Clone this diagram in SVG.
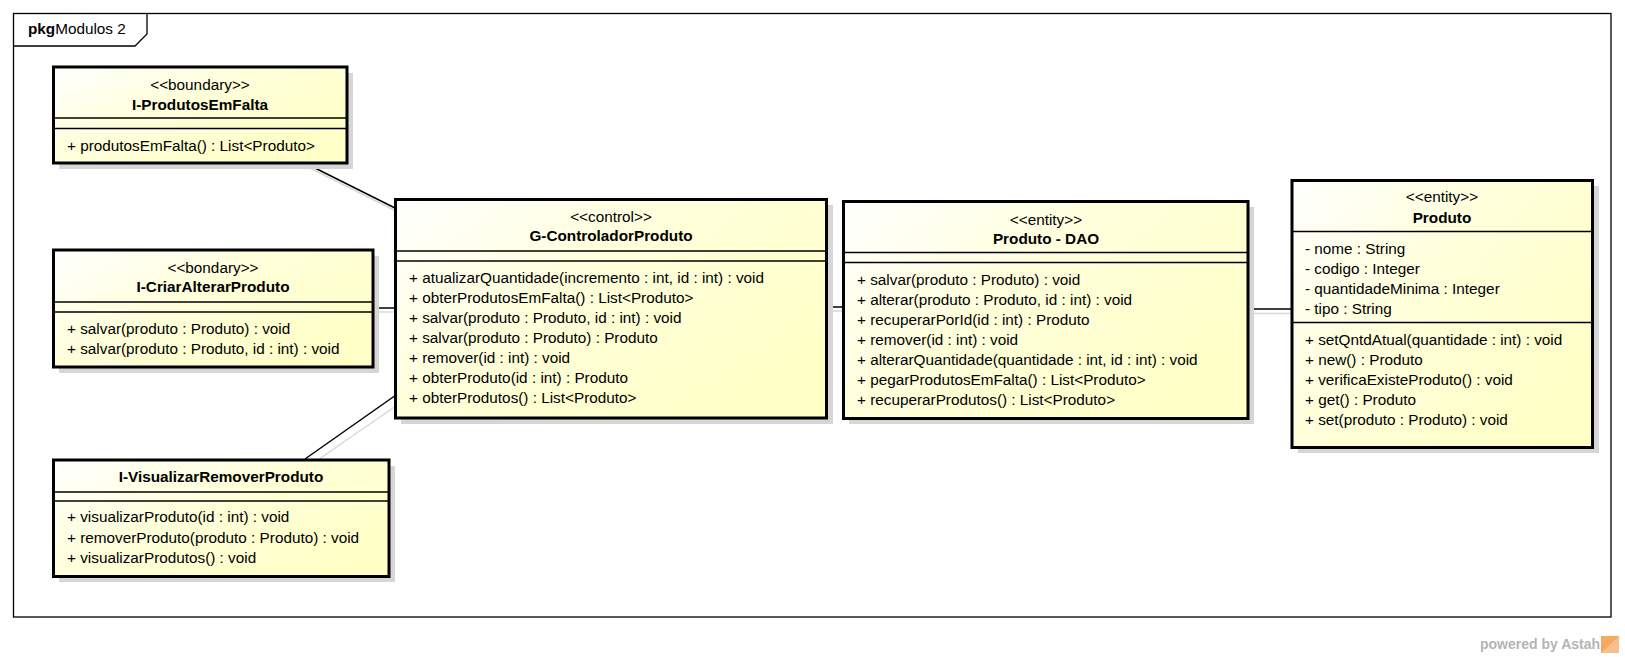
<svg xmlns="http://www.w3.org/2000/svg" width="1625" height="657" viewBox="0 0 1625 657">
<defs>
<linearGradient id="fill" x1="0" y1="0" x2="1" y2="0.7">
<stop offset="0" stop-color="#FFFFFF"/>
<stop offset="0.45" stop-color="#FFFFDC"/>
<stop offset="1" stop-color="#FFFFC6"/>
</linearGradient>
</defs>
<style>
text{font-family:"Liberation Sans",Arial,sans-serif;font-size:15.3px;fill:#000}
.c{text-anchor:middle}
.b{font-weight:bold}
.box{fill:url(#fill);stroke:#000;stroke-width:3}
.sh{fill:#d6d6d6}
.div{stroke:#000;stroke-width:1.5}
.conn{stroke:#000;stroke-width:1.5;fill:none}
.csh{stroke:#d8d8d8;stroke-width:1.5;fill:none}
</style>
<rect width="1625" height="657" fill="#fff"/>
<g id="frame">
<rect x="13.5" y="13.5" width="1597.5" height="603.5" fill="none" stroke="#000" stroke-width="1.3"/>
<path d="M13.5,46 H135 L147,34 V13.5" fill="none" stroke="#000" stroke-width="1.3"/>
<text x="28" y="34"><tspan class="b">pkg</tspan>Modulos 2</text>
</g>
<g id="connectors">
<line class="csh" x1="308" y1="167" x2="400" y2="213"/>
<line class="conn" x1="305" y1="163" x2="397" y2="209"/>
<line class="csh" x1="373" y1="312" x2="395" y2="312"/>
<line class="conn" x1="373" y1="308" x2="395" y2="308"/>
<line class="csh" x1="312" y1="464" x2="403" y2="401"/>
<line class="conn" x1="305" y1="459" x2="396" y2="395"/>
<line class="csh" x1="827" y1="311" x2="843" y2="311"/>
<line class="conn" x1="827" y1="307" x2="843" y2="307"/>
<line class="csh" x1="1248" y1="313.5" x2="1292" y2="313.5"/>
<line class="conn" x1="1248" y1="309" x2="1292" y2="309"/>
</g>
<g id="I-ProdutosEmFalta">
<rect class="sh" x="59" y="73" width="294" height="96"/>
<rect class="box" x="53.5" y="67" width="293.5" height="96"/>
<text class="c" x="200" y="90">&lt;&lt;boundary&gt;&gt;</text>
<text class="c b" x="200" y="110">I-ProdutosEmFalta</text>
<line class="div" x1="53.5" y1="118" x2="347" y2="118"/>
<line class="div" x1="53.5" y1="128.5" x2="347" y2="128.5"/>
<text x="67" y="150.5">+ produtosEmFalta() : List&lt;Produto&gt;</text>
</g>
<g id="I-CriarAlterarProduto">
<rect class="sh" x="59" y="256" width="320" height="117"/>
<rect class="box" x="53.5" y="250" width="319.5" height="117"/>
<text class="c" x="213" y="273">&lt;&lt;bondary&gt;&gt;</text>
<text class="c b" x="213" y="292">I-CriarAlterarProduto</text>
<line class="div" x1="53.5" y1="302" x2="373" y2="302"/>
<line class="div" x1="53.5" y1="312" x2="373" y2="312"/>
<text x="67" y="334">+ salvar(produto : Produto) : void</text>
<text x="67" y="354">+ salvar(produto : Produto, id : int) : void</text>
</g>
<g id="I-VisualizarRemoverProduto">
<rect class="sh" x="59" y="466" width="336" height="116"/>
<rect class="box" x="53.5" y="460" width="335.5" height="116.5"/>
<text class="c b" x="221" y="482">I-VisualizarRemoverProduto</text>
<line class="div" x1="53.5" y1="492" x2="389" y2="492"/>
<line class="div" x1="53.5" y1="501" x2="389" y2="501"/>
<text x="67" y="522">+ visualizarProduto(id : int) : void</text>
<text x="67" y="542.5">+ removerProduto(produto : Produto) : void</text>
<text x="67" y="563">+ visualizarProdutos() : void</text>
</g>
<g id="G-ControladorProduto">
<rect class="sh" x="401" y="205" width="432" height="219"/>
<rect class="box" x="395.5" y="199.5" width="431" height="218.5"/>
<text class="c" x="611" y="222">&lt;&lt;control&gt;&gt;</text>
<text class="c b" x="611" y="241">G-ControladorProduto</text>
<line class="div" x1="395.5" y1="251" x2="826.5" y2="251"/>
<line class="div" x1="395.5" y1="261" x2="826.5" y2="261"/>
<text x="409" y="283">+ atualizarQuantidade(incremento : int, id : int) : void</text>
<text x="409" y="303">+ obterProdutosEmFalta() : List&lt;Produto&gt;</text>
<text x="409" y="323">+ salvar(produto : Produto, id : int) : void</text>
<text x="409" y="343">+ salvar(produto : Produto) : Produto</text>
<text x="409" y="363">+ remover(id : int) : void</text>
<text x="409" y="383">+ obterProduto(id : int) : Produto</text>
<text x="409" y="403">+ obterProdutos() : List&lt;Produto&gt;</text>
</g>
<g id="Produto-DAO">
<rect class="sh" x="849" y="207" width="405" height="217"/>
<rect class="box" x="843.5" y="201.5" width="404.5" height="217"/>
<text class="c" x="1046" y="224.5">&lt;&lt;entity&gt;&gt;</text>
<text class="c b" x="1046" y="243.5">Produto - DAO</text>
<line class="div" x1="843.5" y1="252.5" x2="1248" y2="252.5"/>
<line class="div" x1="843.5" y1="262.5" x2="1248" y2="262.5"/>
<text x="857" y="284.5">+ salvar(produto : Produto) : void</text>
<text x="857" y="304.5">+ alterar(produto : Produto, id : int) : void</text>
<text x="857" y="324.5">+ recuperarPorId(id : int) : Produto</text>
<text x="857" y="344.5">+ remover(id : int) : void</text>
<text x="857" y="364.5">+ alterarQuantidade(quantidade : int, id : int) : void</text>
<text x="857" y="384.5">+ pegarProdutosEmFalta() : List&lt;Produto&gt;</text>
<text x="857" y="404.5">+ recuperarProdutos() : List&lt;Produto&gt;</text>
</g>
<g id="Produto">
<rect class="sh" x="1298" y="186" width="301" height="267"/>
<rect class="box" x="1292" y="180.5" width="300.5" height="267"/>
<text class="c" x="1442" y="201.5">&lt;&lt;entity&gt;&gt;</text>
<text class="c b" x="1442" y="223">Produto</text>
<line class="div" x1="1292" y1="231.5" x2="1592.5" y2="231.5"/>
<text x="1305" y="253.5">- nome : String</text>
<text x="1305" y="273.5">- codigo : Integer</text>
<text x="1305" y="293.5">- quantidadeMinima : Integer</text>
<text x="1305" y="313.5">- tipo : String</text>
<line class="div" x1="1292" y1="322.5" x2="1592.5" y2="322.5"/>
<text x="1305" y="344.5">+ setQntdAtual(quantidade : int) : void</text>
<text x="1305" y="364.5">+ new() : Produto</text>
<text x="1305" y="384.5">+ verificaExisteProduto() : void</text>
<text x="1305" y="404.5">+ get() : Produto</text>
<text x="1305" y="424.5">+ set(produto : Produto) : void</text>
</g>
<g id="watermark">
<text x="1480" y="649" style="font-size:14px;font-weight:bold;fill:#b4b4b4">powered by Astah</text>
<rect x="1601" y="636" width="18" height="17" fill="#f4a860"/>
<path d="M1601,653 L1619,636 V653 Z" fill="#f7c08a"/>
</g>
</svg>
